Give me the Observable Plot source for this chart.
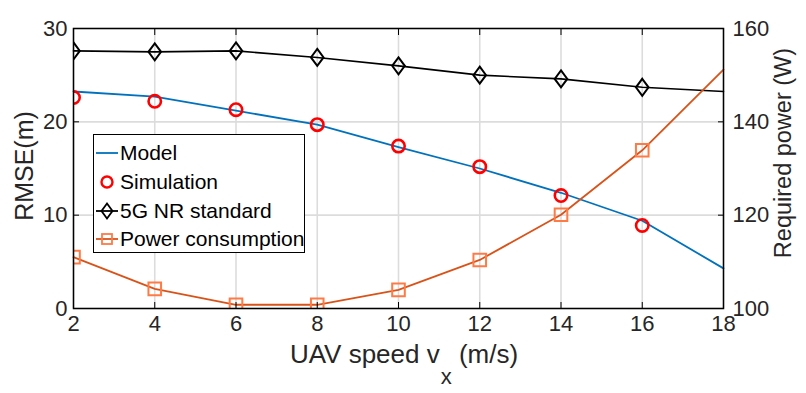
<!DOCTYPE html>
<html><head><meta charset="utf-8">
<script src="https://cdn.jsdelivr.net/npm/d3@7"></script>
<script src="https://cdn.jsdelivr.net/npm/@observablehq/plot@0.6"></script>
<style>
html,body{margin:0;padding:0;background:#fff;}
#wrap{position:relative;width:806px;height:393px;font-family:"Liberation Sans",Arial,Helvetica,sans-serif;color:#262626;overflow:hidden;}
#wrap svg{display:block;}
.lbl{position:absolute;white-space:nowrap;font-size:26px;line-height:1;color:#262626;}
.rot{transform:translate(-50%,-50%) rotate(-90deg);}
#legend{position:absolute;left:93px;top:134px;width:212px;height:119px;border:1.6px solid #000;background:#fff;box-sizing:border-box;font-size:21px;color:#000;}
.row{position:absolute;left:1px;height:28px;display:flex;align-items:center;white-space:nowrap;}
.row svg{margin-right:1px;}
</style></head><body><div id="wrap"></div>
<script>
// ---- data ----
const speeds = [2, 4, 6, 8, 10, 12, 14, 16, 18];
const modelRmse = [23.25, 22.7, 21.2, 19.7, 17.3, 15.0, 12.4, 9.4, 4.3];
const simSpeeds = [2, 4, 6, 8, 10, 12, 14, 16];
const simRmse = [22.6, 22.2, 21.3, 19.7, 17.4, 15.2, 12.1, 8.9];
const nrRmse = [27.6, 27.5, 27.6, 26.9, 26.0, 25.0, 24.6, 23.7, 23.25];
const powerW = [111.0, 104.2, 100.8, 100.8, 104.0, 110.4, 120.1, 133.9, 151.2];
const markerSpeeds = [2, 4, 6, 8, 10, 12, 14, 16];
const xTicks = [2, 4, 6, 8, 10, 12, 14, 16, 18];
const leftTicks = [0, 10, 20, 30];
const rightTicks = [100, 120, 140, 160];
const leftDomain = [0, 30];
const rightDomain = [100, 160];

// right axis (W) mapped onto left axis (m)
const toLeft = p => leftDomain[0] + (p - rightDomain[0]) * (leftDomain[1] - leftDomain[0]) / (rightDomain[1] - rightDomain[0]);
const fromLeft = v => Math.round(rightDomain[0] + (v - leftDomain[0]) * (rightDomain[1] - rightDomain[0]) / (leftDomain[1] - leftDomain[0]));

const rows = speeds.map((s, i) => ({s, model: modelRmse[i], nr: nrRmse[i], pw: toLeft(powerW[i])}));
const markerRows = rows.filter(d => markerSpeeds.includes(d.s));
const simRows = simSpeeds.map((s, i) => ({s, v: simRmse[i]}));

const diamond = {draw(ctx, size){ const r = Math.sqrt(size / Math.PI); ctx.moveTo(0, -1.35*r); ctx.lineTo(r, 0); ctx.lineTo(0, 1.35*r); ctx.lineTo(-r, 0); ctx.closePath(); }};
const square = {draw(ctx, size){ const r = Math.sqrt(size / Math.PI); ctx.rect(-r, -r, 2*r, 2*r); }};

const C = {model: "#0072BD", sim: "#FF0000", nr: "#000000", pwLine: "#D95319", pwMark: "#FF7A45", grid: "#dcdcdc"};
const blank = () => "";

const chart = Plot.plot({
  width: 806, height: 393,
  marginLeft: 73, marginRight: 83, marginTop: 28, marginBottom: 85,
  x: {domain: [2, 18]},
  y: {domain: leftDomain},
  style: {fontFamily: '"Liberation Sans", Arial, Helvetica, sans-serif', fontSize: "22px", color: "#262626", background: "white"},
  marks: [
    Plot.gridX(xTicks, {stroke: C.grid, strokeOpacity: 1, strokeWidth: 1.6}),
    Plot.gridY(leftTicks, {stroke: C.grid, strokeOpacity: 1, strokeWidth: 1.6}),
    Plot.line(rows, {x: "s", y: "model", stroke: C.model, strokeWidth: 1.8}),
    Plot.line(rows, {x: "s", y: "nr", stroke: C.nr, strokeWidth: 1.6}),
    Plot.line(rows, {x: "s", y: "pw", stroke: C.pwLine, strokeWidth: 1.8}),
    Plot.dot(simRows, {x: "s", y: "v", r: 6.2, stroke: C.sim, strokeWidth: 2.6, fill: "none", clip: true}),
    Plot.dot(markerRows, {x: "s", y: "nr", r: 6.3, symbol: diamond, stroke: C.nr, strokeWidth: 2, fill: "none", clip: true}),
    Plot.dot(markerRows, {x: "s", y: "pw", r: 6.3, symbol: square, stroke: C.pwMark, strokeWidth: 2, fill: "none", clip: true}),
    Plot.axisX(xTicks, {anchor: "bottom", tickSize: 0, tickPadding: 7, label: null}),
    Plot.axisX(xTicks, {anchor: "bottom", tickSize: -6, tickFormat: blank, label: null, stroke: "#000"}),
    Plot.axisX(xTicks, {anchor: "top", tickSize: -6, tickFormat: blank, label: null, stroke: "#000"}),
    Plot.axisY(leftTicks, {anchor: "left", tickSize: 0, tickPadding: 6, label: null}),
    Plot.axisY(leftTicks, {anchor: "left", tickSize: -6, tickFormat: blank, label: null, stroke: "#000"}),
    Plot.axisY(rightTicks.map(toLeft), {anchor: "right", tickSize: 0, tickPadding: 9, tickFormat: fromLeft, label: null}),
    Plot.axisY(rightTicks.map(toLeft), {anchor: "right", tickSize: -6, tickFormat: blank, label: null, stroke: "#000"}),
    Plot.frame({stroke: "#000", strokeWidth: 1.5})
  ]
});

const wrap = document.getElementById("wrap");
wrap.appendChild(chart);

function addLabel(html, style, cls) {
  const d = document.createElement("div");
  d.className = "lbl" + (cls ? " " + cls : "");
  d.innerHTML = html;
  Object.assign(d.style, style);
  wrap.appendChild(d);
  return d;
}
const xl = addLabel('UAV speed v<span style="display:inline-block;position:relative;top:21px;font-size:22px;margin-left:1px">x</span> (m/s)', {left: "404px", top: "341px"});
xl.style.transform = "translateX(-50%)";
addLabel("RMSE(m)", {left: "24px", top: "166px", fontSize: "25px"}, "rot");
addLabel("Required power (W)", {left: "784px", top: "153px", fontSize: "23.5px"}, "rot");

// legend
const legendItems = [
  {label: "Model", line: C.model, mark: null},
  {label: "Simulation", line: null, mark: "circle", color: C.sim},
  {label: "5G NR standard", line: C.nr, mark: "diamond", color: C.nr},
  {label: "Power consumption", line: C.pwLine, mark: "square", color: C.pwMark}
];
const legend = document.createElement("div");
legend.id = "legend";
const rowTops = [4, 33, 62, 90];
legendItems.forEach((it, i) => {
  const r = document.createElement("div");
  r.className = "row";
  r.style.top = rowTops[i] + "px";
  let svg = '<svg width="24" height="22" viewBox="0 0 24 22">';
  if (it.line) svg += `<line x1="1" x2="23" y1="11" y2="11" stroke="${it.line}" stroke-width="1.8"/>`;
  if (it.mark === "circle") svg += `<circle cx="12" cy="11" r="5.5" fill="none" stroke="${it.color}" stroke-width="2.4"/>`;
  if (it.mark === "diamond") svg += `<path d="M12,3.5L17.5,11L12,18.5L6.5,11Z" fill="none" stroke="${it.color}" stroke-width="1.8"/>`;
  if (it.mark === "square") svg += `<rect x="7" y="6" width="10" height="10" fill="none" stroke="${it.color}" stroke-width="1.8"/>`;
  svg += "</svg>";
  r.innerHTML = svg + "<span>" + it.label + "</span>";
  legend.appendChild(r);
});
wrap.appendChild(legend);
</script></body></html>
